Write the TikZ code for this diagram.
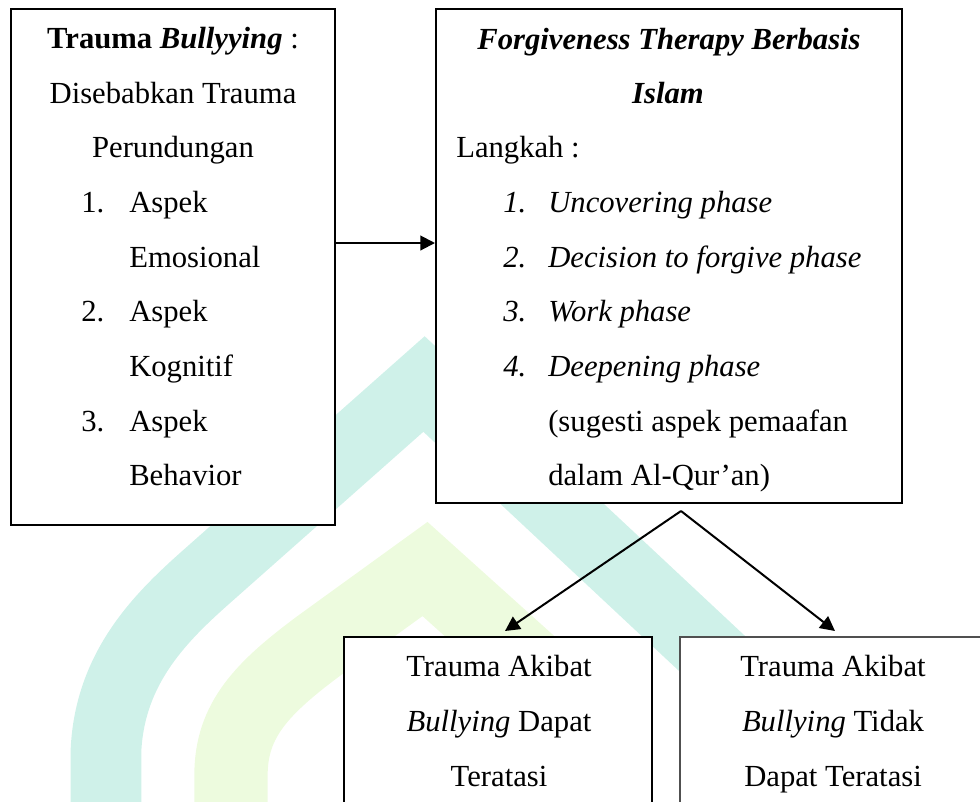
\documentclass[tikz,border=0pt]{standalone}
\usepackage{fontspec}
\setmainfont{Liberation Serif}
\usetikzlibrary{arrows.meta,fit}
\definecolor{wmteal}{RGB}{207,241,233}
\definecolor{wmgreen}{RGB}{237,251,222}
\definecolor{boxgray}{RGB}{80,80,80}
\begin{document}
\begin{tikzpicture}[x=0.75pt,y=-0.75pt,
  box/.style={draw=black, fill=white, line width=1.5pt, inner sep=0pt},
  txt/.style={inner sep=0pt, font=\fontsize{23}{28}\selectfont},
  arr/.style={line width=1.5pt, -{Triangle[length=11pt,width=11pt]}},
  band/.style={line join=miter, line cap=butt}]
\useasboundingbox (0,0) rectangle (980,801);
\clip (0,0) rectangle (980,801);
% watermark
\draw[band, wmteal, line width=53pt] (905,834) -- (424,384) -- (205,578)
  .. controls (160,618) and (110,668) .. (106,750) -- (106,850);
\draw[band, wmgreen, line width=55pt] (575,704) -- (425,569) -- (320,645)
  .. controls (262,688) and (231,720) .. (231,775) -- (231,850);
% boxes
\node[box, fit={(11,9) (335,524.5)}] (lbox) {};
\node[box, fit={(436,9) (902,503)}] (rbox) {};
\node[box, fit={(344,637) (652,850)}] (bl) {};
\node[box, draw=boxgray, fit={(680,637) (990,850)}] (br) {};
% left box text
\node[txt, anchor=base] (l1) at (173,48) {\textbf{Trauma \textit{Bullyying}} :};
\node[txt, anchor=base] (l2) at (173,103) {Disebabkan Trauma};
\node[txt, anchor=base] (l3) at (173,157.5) {Perundungan};
\node[txt, anchor=base west] (l4n) at (81,212) {1.};
\node[txt, anchor=base west] (l4) at (129,212) {Aspek};
\node[txt, anchor=base west] (l5) at (129,267) {Emosional};
\node[txt, anchor=base west] (l6n) at (81,321.5) {2.};
\node[txt, anchor=base west] (l6) at (129,321.5) {Aspek};
\node[txt, anchor=base west] (l7) at (129,376) {Kognitif};
\node[txt, anchor=base west] (l8n) at (81,431) {3.};
\node[txt, anchor=base west] (l8) at (129,431) {Aspek};
\node[txt, anchor=base west] (l9) at (129,485.5) {Behavior};
% right box text
\node[txt, anchor=base] (r1) at (669,49) {\textbf{\textit{Forgiveness Therapy Berbasis}}};
\node[txt, anchor=base] (r2) at (668,103) {\textbf{\textit{Islam}}};
\node[txt, anchor=base west] (r3) at (456,157.5) {Langkah :};
\node[txt, anchor=base west] (r4n) at (503,212) {\textit{1.}};
\node[txt, anchor=base west] (r4) at (548,212) {\textit{Uncovering phase}};
\node[txt, anchor=base west] (r5n) at (503,267) {\textit{2.}};
\node[txt, anchor=base west] (r5) at (548,267) {\textit{Decision to forgive phase}};
\node[txt, anchor=base west] (r6n) at (503,321.5) {\textit{3.}};
\node[txt, anchor=base west] (r6) at (548,321.5) {\textit{Work phase}};
\node[txt, anchor=base west] (r7n) at (503,376) {\textit{4.}};
\node[txt, anchor=base west] (r7) at (548,376) {\textit{Deepening phase}};
\node[txt, anchor=base west] (r8) at (548,431) {(sugesti aspek pemaafan};
\node[txt, anchor=base west] (r9) at (548,485.5) {dalam Al-Qur’an)};
% bottom boxes text
\node[txt, anchor=base] (b1) at (499,676) {Trauma Akibat};
\node[txt, anchor=base] (b2) at (499,731) {\textit{Bullying} Dapat};
\node[txt, anchor=base] (b3) at (499,786) {Teratasi};
\node[txt, anchor=base] (c1) at (833,676) {Trauma Akibat};
\node[txt, anchor=base] (c2) at (833,731) {\textit{Bullying} Tidak};
\node[txt, anchor=base] (c3) at (833,786) {Dapat Teratasi};
% connectors
\coordinate (ah) at (0,243);
\draw[arr] (lbox.east |- ah) -- (rbox.west |- ah);
\coordinate (fork) at ([shift={(9pt,-5.25pt)}]rbox.south);
\draw[arr] (fork) -- ([shift={(5.25pt,3.75pt)}]bl.north);
\draw[arr] (fork) -- ([yshift=3.75pt]br.north);
\end{tikzpicture}
\end{document}
